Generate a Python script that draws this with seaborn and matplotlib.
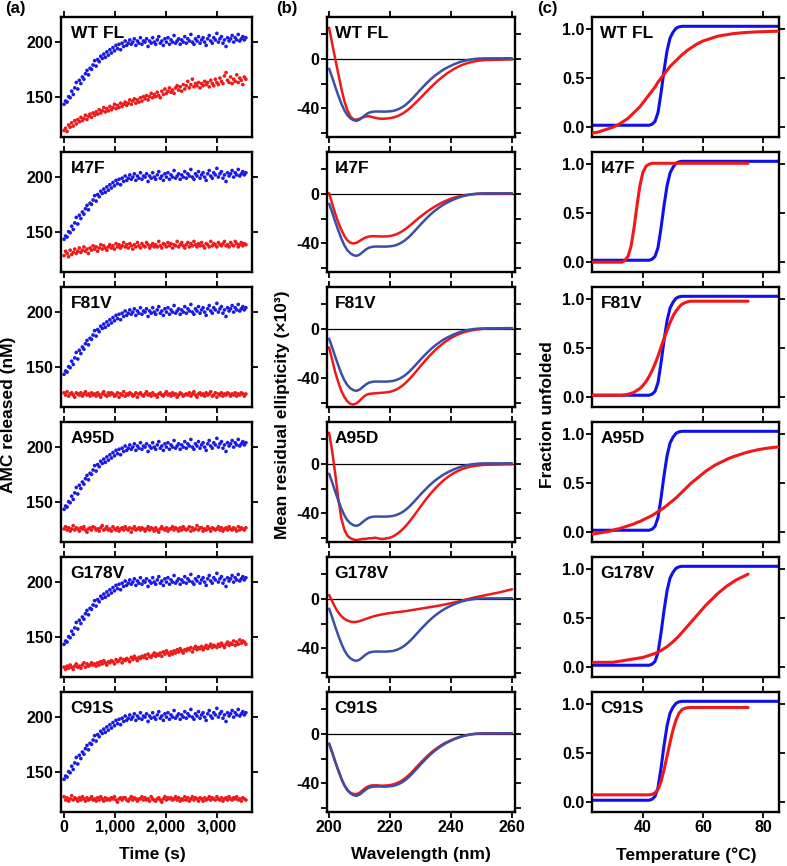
import numpy as np
import pandas as pd
import matplotlib
matplotlib.use('Agg')
import matplotlib.pyplot as plt
from matplotlib.ticker import FuncFormatter
import seaborn as sns

# ---------------- data ----------------
mutants = ['WT FL', 'I47F', 'F81V', 'A95D', 'G178V', 'C91S']

# (a) AMC released, one point every 30 s
time_step = 30
amc_blue = [
    143, 146, 145, 150, 149, 155, 152, 158, 163, 157,
    165, 162, 168, 166, 171, 174, 170, 176, 175, 179,
    183, 178, 184, 182, 187, 185, 189, 186, 191, 188,
    193, 190, 195, 192, 197, 194, 198, 193, 199, 196,
    201, 197, 199, 202, 198, 200, 203, 197, 201, 199,
    204, 198, 201, 200, 203, 196, 201, 199, 204, 200,
    198, 202, 205, 199, 201, 197, 203, 200, 204, 198,
    202, 200, 206, 199, 201, 203, 198, 202, 200, 205,
    199, 203, 201, 207, 200, 198, 203, 201, 205, 199,
    202, 204, 200, 197, 203, 206, 201, 199, 204, 202,
    208, 200, 203, 205, 199, 202, 196, 204, 201, 203,
    206, 200, 204, 202, 207, 201, 203, 205, 202, 204,
]
amc_red_wt = [
    119, 121, 118, 124, 122, 126, 123, 128, 125, 129,
    127, 131, 128, 130, 133, 129, 132, 134, 131, 135,
    133, 136, 134, 138, 135, 137, 140, 136, 139, 137,
    141, 138, 140, 143, 139, 142, 140, 144, 141, 143,
    145, 142, 144, 147, 143, 146, 148, 144, 147, 145,
    149, 146, 150, 148, 151, 147, 150, 153, 149, 152,
    150, 154, 151, 149, 155, 152, 157, 153, 155, 158,
    154, 156, 153, 158, 160, 156, 159, 155, 161, 157,
    160, 164, 158, 161, 166, 159, 162, 160, 163, 158,
    162, 160, 164, 161, 163, 159, 165, 162, 160, 166,
    163, 161, 167, 164, 162, 169, 172, 165, 163, 168,
    162, 166, 164, 170, 163, 167, 165, 161, 168, 166,
]
amc_red_i47f = [
    128, 132, 130, 127, 133, 129, 131, 134, 130, 132,
    135, 131, 133, 136, 132, 134, 130, 135, 133, 137,
    134, 136, 132, 135, 138, 134, 137, 135, 133, 136,
    138, 135, 137, 134, 139, 136, 138, 135, 137, 140,
    136, 138, 135, 139, 137, 134, 138, 136, 140, 137,
    135, 139, 137, 136, 140, 138, 135, 137, 139, 136,
    138, 136, 141, 137, 135, 139, 138, 136, 140, 137,
    139, 135, 138, 137, 141, 136, 138, 140, 137, 135,
    138, 140, 136, 139, 137, 141, 138, 136, 139, 137,
    140, 137, 135, 139, 138, 136, 141, 137, 139, 138,
    136, 140, 138, 137, 139, 141, 137, 138, 136, 140,
    138, 137, 141, 139, 136, 138, 140, 137, 139, 138,
]
amc_red_f81v = [
    126, 124, 127, 123, 125, 126, 124, 122, 126, 125,
    124, 126, 123, 125, 127, 124, 125, 123, 126, 124,
    125, 123, 126, 124, 122, 125, 127, 124, 123, 126,
    124, 126, 125, 123, 124, 126, 122, 125, 124, 127,
    123, 125, 124, 126, 125, 123, 124, 126, 122, 125,
    126, 124, 123, 125, 127, 124, 125, 123, 126, 124,
    124, 122, 125, 126, 124, 123, 125, 127, 124, 125,
    123, 126, 124, 125, 122, 124, 126, 125, 123, 124,
    125, 124, 126, 123, 125, 127, 124, 122, 125, 126,
    124, 125, 123, 126, 124, 125, 127, 123, 124, 126,
    122, 125, 124, 126, 123, 125, 124, 126, 125, 123,
    125, 124, 126, 123, 125, 124, 126, 125, 123, 125,
]
amc_red_a95d = [
    125, 127, 124, 126, 123, 125, 128, 124, 126, 125,
    123, 126, 125, 127, 124, 122, 125, 126, 124, 127,
    126, 124, 125, 123, 126, 128, 124, 125, 127, 124,
    125, 123, 127, 125, 124, 126, 123, 125, 126, 124,
    127, 125, 124, 126, 122, 125, 127, 124, 125, 126,
    124, 126, 125, 123, 125, 127, 124, 126, 125, 123,
    126, 124, 122, 125, 127, 125, 124, 126, 123, 125,
    125, 127, 124, 126, 125, 123, 126, 124, 127, 125,
    124, 125, 127, 123, 126, 124, 125, 128, 124, 126,
    126, 123, 125, 124, 127, 125, 123, 126, 125, 124,
    125, 127, 124, 126, 123, 125, 126, 124, 127, 125,
    124, 126, 125, 123, 127, 124, 126, 125, 124, 126,
]
amc_red_g178v = [
    122, 120, 123, 121, 124, 122, 120, 123, 125, 122,
    123, 121, 124, 126, 122, 125, 123, 124, 126, 124,
    125, 123, 126, 124, 127, 125, 128, 126, 124, 127,
    126, 128, 127, 125, 129, 127, 128, 130, 126, 129,
    128, 130, 129, 127, 131, 129, 132, 130, 128, 131,
    130, 132, 131, 133, 130, 134, 132, 131, 133, 135,
    132, 134, 133, 135, 132, 136, 134, 137, 135, 133,
    136, 134, 137, 135, 138, 136, 139, 137, 135, 138,
    137, 139, 138, 140, 136, 139, 141, 138, 140, 139,
    141, 138, 140, 142, 139, 141, 143, 140, 142, 141,
    140, 143, 141, 144, 142, 140, 143, 145, 142, 144,
    143, 146, 142, 145, 143, 147, 144, 146, 145, 143,
]
amc_red_c91s = [
    127, 124, 126, 123, 125, 128, 124, 126, 125, 123,
    126, 124, 127, 125, 123, 126, 124, 125, 127, 124,
    125, 123, 126, 124, 127, 125, 123, 126, 124, 125,
    124, 126, 125, 127, 124, 122, 125, 126, 124, 126,
    126, 124, 123, 125, 127, 124, 126, 125, 123, 125,
    125, 127, 124, 126, 124, 125, 123, 127, 125, 124,
    123, 125, 126, 124, 122, 125, 127, 124, 126, 125,
    126, 124, 125, 127, 124, 126, 123, 125, 124, 127,
    124, 126, 123, 125, 127, 124, 126, 125, 123, 126,
    125, 123, 126, 124, 125, 127, 124, 126, 125, 124,
    127, 125, 124, 126, 123, 125, 126, 124, 127, 125,
    124, 126, 125, 127, 124, 125, 123, 126, 125, 124,
]
amc_red = [amc_red_wt, amc_red_i47f, amc_red_f81v,
           amc_red_a95d, amc_red_g178v, amc_red_c91s]

# (b) CD spectra, 200-260 nm, 1 nm steps
wavelength = list(range(200, 261))
cd_blue = [
    -8, -15, -22.5, -29.5, -36, -41.5, -45.5, -48, -49.5, -50,
    -49, -47, -45, -43.5, -42.8, -42.5, -42.5, -42.5, -42.6, -42.5,
    -42.3, -42, -41.3, -40.3, -39, -37.3, -35.2, -32.8, -30.2, -27.5,
    -24.8, -22.2, -19.7, -17.3, -15.1, -13.1, -11.3, -9.6, -8.1, -6.8,
    -5.6, -4.5, -3.5, -2.6, -1.9, -1.3, -0.8, -0.4, -0.1, 0.1,
    0.2, 0.3, 0.3, 0.3, 0.3, 0.3, 0.3, 0.3, 0.4, 0.4, 0.4,
]
cd_red_wt = [
    25, 12, 0, -12, -24, -34, -41.5, -46.5, -48.8, -49,
    -48.3, -47.3, -46.5, -46.3, -46.8, -47.5, -48, -48.3, -48.3, -48.1,
    -47.8, -47.3, -46.6, -45.6, -44.3, -42.7, -40.8, -38.7, -36.4, -34,
    -31.5, -29, -26.4, -23.9, -21.5, -19.2, -17, -15, -13.1, -11.3,
    -9.7, -8.2, -6.9, -5.7, -4.7, -3.8, -3.1, -2.5, -2, -1.6,
    -1.3, -1.1, -1.0, -0.9, -0.8, -0.8, -0.7, -0.7, -0.6, -0.6, -0.5,
]
cd_red_i47f = [
    0.5, -8, -16, -23, -29, -34, -37.5, -39.5, -40, -39.5,
    -38, -36.5, -35.2, -34.5, -34.2, -34.2, -34.3, -34.4, -34.4, -34.3,
    -34, -33.5, -32.7, -31.6, -30.2, -28.5, -26.6, -24.6, -22.5, -20.4,
    -18.4, -16.5, -14.7, -13, -11.4, -9.9, -8.5, -7.2, -6, -5,
    -4, -3.2, -2.5, -1.9, -1.4, -1, -0.7, -0.4, -0.2, 0,
    0.1, 0.2, 0.2, 0.2, 0.2, 0.2, 0.2, 0.2, 0.2, 0.2, 0.2,
]
cd_red_f81v = [
    -15, -25, -35, -43, -50, -55, -58.5, -60.5, -61, -60,
    -58, -55.5, -53.5, -52.5, -52.2, -52, -51.8, -51.6, -51.4, -51.1,
    -50.7, -50, -49, -47.6, -45.9, -43.8, -41.4, -38.8, -36, -33.1,
    -30.1, -27.2, -24.4, -21.7, -19.2, -16.8, -14.6, -12.6, -10.7, -9,
    -7.5, -6.1, -4.9, -3.9, -3, -2.3, -1.7, -1.2, -0.8, -0.5,
    -0.2, 0, 0.1, 0.2, 0.3, 0.3, 0.4, 0.4, 0.5, 0.5, 0.5,
]
cd_red_a95d = [
    25, 10, -8, -28, -44, -53, -58, -60, -61, -61.5,
    -61, -60.5, -60.5, -60, -60, -59.5, -60, -60.5, -60.5, -60,
    -59.5, -58.5, -57, -55.2, -53, -50.5, -47.7, -44.6, -41.3, -37.9,
    -34.5, -31.2, -28, -25, -22.1, -19.4, -16.9, -14.6, -12.5, -10.6,
    -8.9, -7.4, -6.1, -5, -4, -3.2, -2.6, -2.1, -1.7, -1.4,
    -1.1, -0.9, -0.8, -0.8, -0.7, -0.7, -0.6, -0.6, -0.5, -0.5, -0.5,
]
cd_red_g178v = [
    3, -2, -7, -11, -14, -16.2, -17.6, -18.4, -18.8, -18.6,
    -18, -17.2, -16.3, -15.4, -14.6, -13.9, -13.3, -12.8, -12.3, -11.9,
    -11.5, -11.2, -10.9, -10.6, -10.3, -10, -9.6, -9.2, -8.8, -8.4,
    -8, -7.6, -7.2, -6.8, -6.4, -6, -5.6, -5.1, -4.6, -4.1,
    -3.6, -3, -2.4, -1.8, -1.2, -0.6, 0, 0.6, 1.2, 1.7,
    2.2, 2.7, 3.2, 3.7, 4.2, 4.7, 5.2, 5.8, 6.4, 7, 7.6,
]
cd_red_c91s = [
    -8, -15, -22.5, -29.5, -36, -41.5, -45.2, -47.5, -48.5, -48.6,
    -47.5, -45.5, -43.5, -42.2, -41.6, -41.5, -41.6, -41.8, -41.8, -41.6,
    -41.3, -40.8, -40, -38.9, -37.5, -35.8, -33.7, -31.3, -28.7, -26,
    -23.4, -20.9, -18.5, -16.2, -14.1, -12.2, -10.5, -8.9, -7.5, -6.3,
    -5.2, -4.2, -3.3, -2.5, -1.8, -1.2, -0.7, -0.3, 0, 0.1,
    0.2, 0.3, 0.3, 0.3, 0.3, 0.3, 0.3, 0.3, 0.4, 0.4, 0.4,
]
cd_red = [cd_red_wt, cd_red_i47f, cd_red_f81v,
          cd_red_a95d, cd_red_g178v, cd_red_c91s]

# (c) thermal unfolding, 1 degree steps
temp_full = list(range(23, 86))
temp_short = list(range(23, 76))
fu_blue = ([0.02] * 20 +
           [0.03, 0.06, 0.15, 0.35, 0.58, 0.78, 0.91, 0.97, 1.01, 1.025] +
           [1.03] * 33)
fu_red_wt = [
    -0.06, -0.055, -0.05, -0.04, -0.03, -0.02, -0.01, 0.0, 0.015, 0.03,
    0.05, 0.07, 0.09, 0.12, 0.15, 0.18, 0.21, 0.25, 0.29, 0.33,
    0.37, 0.41, 0.46, 0.50, 0.54, 0.58, 0.62, 0.65, 0.68, 0.71,
    0.74, 0.765, 0.79, 0.81, 0.83, 0.85, 0.865, 0.88, 0.89, 0.90,
    0.91, 0.92, 0.93, 0.935, 0.94, 0.945, 0.95, 0.955, 0.958, 0.961,
    0.964, 0.966, 0.968, 0.97, 0.972, 0.973, 0.974, 0.975, 0.976, 0.977,
    0.978, 0.979, 0.98,
]
fu_red_i47f = ([0.0] * 11 +
               [0.02, 0.06, 0.16, 0.35, 0.58, 0.79, 0.92, 0.98, 1.0] +
               [1.01] * 33)
fu_red_f81v = ([0.02] * 11 +
               [0.025, 0.03, 0.04, 0.05, 0.07, 0.09, 0.12, 0.16, 0.21, 0.27,
                0.34, 0.42, 0.51, 0.60, 0.68, 0.76, 0.83, 0.88, 0.92, 0.95,
                0.965, 0.975, 0.98] +
               [0.98] * 19)
fu_red_a95d = [
    -0.02, -0.015, -0.01, -0.005, 0.0, 0.005, 0.01, 0.02, 0.03, 0.035,
    0.045, 0.055, 0.065, 0.075, 0.085, 0.10, 0.11, 0.125, 0.14, 0.155,
    0.17, 0.19, 0.21, 0.23, 0.25, 0.275, 0.30, 0.325, 0.35, 0.38,
    0.41, 0.44, 0.47, 0.50, 0.525, 0.55, 0.575, 0.60, 0.625, 0.645,
    0.665, 0.685, 0.70, 0.715, 0.73, 0.745, 0.758, 0.77, 0.78, 0.79,
    0.80, 0.81, 0.818, 0.826, 0.833, 0.84, 0.846, 0.851, 0.856, 0.86,
    0.864, 0.867, 0.87,
]
fu_red_g178v = [
    0.045, 0.05, 0.05, 0.05, 0.05, 0.05, 0.05, 0.05, 0.055, 0.06,
    0.065, 0.07, 0.075, 0.08, 0.085, 0.09, 0.095, 0.10, 0.11, 0.12,
    0.13, 0.14, 0.155, 0.17, 0.19, 0.21, 0.235, 0.26, 0.29, 0.32,
    0.355, 0.39, 0.425, 0.46, 0.495, 0.53, 0.565, 0.60, 0.635, 0.665,
    0.695, 0.725, 0.755, 0.78, 0.805, 0.83, 0.85, 0.87, 0.89, 0.905,
    0.92, 0.935, 0.95,
]
fu_red_c91s = ([0.075] * 20 +
               [0.08, 0.095, 0.13, 0.21, 0.33, 0.47, 0.61, 0.74, 0.84, 0.91,
                0.945, 0.96, 0.965] +
               [0.967] * 20)
fu_red = [fu_red_wt, fu_red_i47f, fu_red_f81v,
          fu_red_a95d, fu_red_g178v, fu_red_c91s]

# ---------------- style ----------------
sns.set_theme(style='ticks')
plt.rcParams['font.family'] = ['Liberation Sans', 'DejaVu Sans']
plt.rcParams['font.weight'] = 'bold'
plt.rcParams['axes.unicode_minus'] = False
plt.rcParams['text.color'] = 'black'
plt.rcParams['axes.labelcolor'] = 'black'
plt.rcParams['xtick.color'] = 'black'
plt.rcParams['ytick.color'] = 'black'

BLUE_DOT = '#1a1ae6'
RED = '#f01818'
BLUE_CD = '#3a4fa6'
BLUE_FU = '#1010ee'

W, H = 787, 866
fig = plt.figure(figsize=(W / 100, H / 100), dpi=100)

col_left = [61, 327, 592]
col_right = [252, 515, 779]
row_top = [17 + 135 * i for i in range(6)]
panel_h = 120


def make_ax(col, row):
    l, r, t = col_left[col], col_right[col], row_top[row]
    return fig.add_axes([l / W, 1 - (t + panel_h) / H, (r - l) / W, panel_h / H])


def style(ax, last):
    for s in ax.spines.values():
        s.set_linewidth(1.7)
        s.set_color('black')
    ax.tick_params(direction='out', length=4, width=1.3, top=True, right=True,
                   labelsize=11.5, pad=1.5, labelbottom=last, colors='black')
    ax.set_xlabel('')
    ax.set_ylabel('')


def name(ax, txt, x):
    ax.text(x, 0.86, txt, transform=ax.transAxes, fontsize=12.5,
            fontweight='bold', va='center', ha='left', color='black')


thousands = FuncFormatter(lambda v, p: f'{int(v):,}')

for i, m in enumerate(mutants):
    last = i == len(mutants) - 1

    # (a)
    ax = make_ax(0, i)
    t_blue = np.arange(len(amc_blue)) * time_step
    t_red = np.arange(len(amc_red[i])) * time_step
    df_a = pd.DataFrame({'time': np.concatenate([t_blue, t_red]),
                         'amc': amc_blue + amc_red[i],
                         'set': ['wt'] * len(amc_blue) + ['mut'] * len(amc_red[i])})
    sns.scatterplot(data=df_a, x='time', y='amc', hue='set',
                    palette={'wt': BLUE_DOT, 'mut': RED}, s=7, linewidth=0,
                    legend=False, ax=ax)
    ax.set_xlim(-60, 3690)
    ax.set_ylim(113, 223)
    ax.set_xticks([0, 1000, 2000, 3000])
    ax.xaxis.set_major_formatter(thousands)
    ax.set_yticks([150, 200])
    style(ax, last)
    name(ax, m, 0.05)

    # (b)
    ax = make_ax(1, i)
    ax.axhline(0, color='black', lw=0.9, zorder=1)
    sns.lineplot(x=wavelength, y=cd_red[i], color=RED, lw=1.8, ax=ax,
                 estimator=None, zorder=2)
    sns.lineplot(x=wavelength, y=cd_blue, color=BLUE_CD, lw=1.8, ax=ax,
                 estimator=None, zorder=3)
    ax.set_xlim(199.3, 261)
    ax.set_ylim(-63, 33.6)
    ax.set_xticks([200, 220, 240, 260])
    ax.set_yticks([-60, -40, -20, 0, 20])
    ax.set_yticklabels(['', '-40', '', '0', ''])
    style(ax, last)
    name(ax, m, 0.04)

    # (c)
    ax = make_ax(2, i)
    t_r = temp_full if len(fu_red[i]) == len(temp_full) else temp_short
    sns.lineplot(x=temp_full, y=fu_blue, color=BLUE_FU, lw=2.2, ax=ax,
                 estimator=None, zorder=2)
    sns.lineplot(x=t_r, y=fu_red[i], color=RED, lw=2.2, ax=ax,
                 estimator=None, zorder=3)
    ax.set_xlim(23, 85.3)
    ax.set_ylim(-0.1, 1.125)
    ax.set_xticks([40, 60, 80])
    ax.set_yticks([0, 0.5, 1.0])
    ax.set_yticklabels(['0.0', '0.5', '1.0'])
    style(ax, last)
    name(ax, m, 0.045)

# panel letters
for x, lab in [(5, '(a)'), (276, '(b)'), (537, '(c)')]:
    fig.text(x / W, 1 - 9 / H, lab, fontsize=12, fontweight='bold',
             ha='left', va='center')

# axis titles
fig.text(152 / W, 1 - 855 / H, 'Time (s)', fontsize=12.5, fontweight='bold',
         ha='center', va='center')
fig.text(421 / W, 1 - 855 / H, 'Wavelength (nm)', fontsize=12.5,
         fontweight='bold', ha='center', va='center')
fig.text(686 / W, 1 - 855 / H, 'Temperature (°C)', fontsize=12.5,
         fontweight='bold', ha='center', va='center')
fig.text(9 / W, 1 - 415 / H, 'AMC released (nM)', fontsize=12.5,
         fontweight='bold', rotation=90, ha='center', va='center')
fig.text(283 / W, 1 - 415 / H, 'Mean residual ellipticity (×10³)',
         fontsize=12.5, fontweight='bold', rotation=90, ha='center', va='center')
fig.text(547 / W, 1 - 415 / H, 'Fraction unfolded', fontsize=12.5,
         fontweight='bold', rotation=90, ha='center', va='center')

fig.savefig('out.png', dpi=100)
